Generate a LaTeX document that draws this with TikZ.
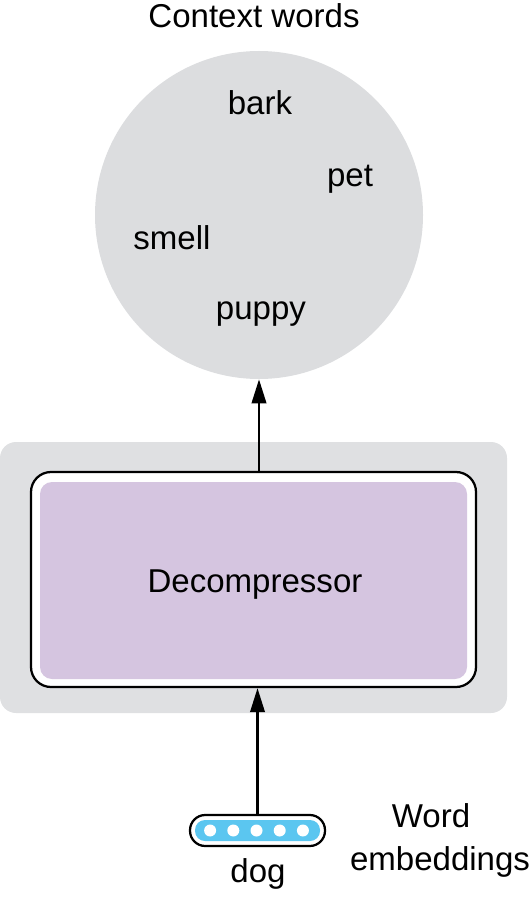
\documentclass[tikz,border=0pt]{standalone}
\usepackage{fontspec}
\setmainfont{Liberation Sans}
\usetikzlibrary{arrows.meta}
\definecolor{ctxgray}{HTML}{DCDDDF}
\definecolor{framegray}{HTML}{DFE0E2}
\definecolor{decpurple}{HTML}{D5C5E0}
\definecolor{embcyan}{HTML}{5BC6F0}
\tikzset{
  lbl/.style={font=\fontsize{23.5}{28}\selectfont, anchor=base, inner sep=0pt},
  arr/.style={line width=1.8pt, -{Triangle[length=0.6cm,width=0.36cm]}},
}
\begin{document}
\begin{tikzpicture}
\useasboundingbox (0,0) rectangle (13.275,-22.5);
% context words
\node[circle, fill=ctxgray, minimum size=8.2cm, inner sep=0pt] (ctx) at (6.475,-5.375) {};
\node[lbl] (title) at (6.35,-0.7) {Context words};
\node[lbl] (bark) at (6.5,-2.875) {bark};
\node[lbl] (pet) at (8.75,-4.675) {pet};
\node[lbl] (smell) at (4.3,-6.25) {smell};
\node[lbl] (puppy) at (6.525,-8.0) {puppy};
% decompressor
\node[fill=framegray, rounded corners=0.4cm, minimum width=12.675cm, minimum height=6.775cm] (frame) at (6.3375,-14.4375) {};
\node[draw, line width=1.6pt, fill=white, rounded corners=0.5cm, minimum width=11.125cm, minimum height=5.375cm] (dec) at (6.3375,-14.4875) {};
\node[fill=decpurple, rounded corners=0.3cm, minimum width=10.675cm, minimum height=4.925cm] (decin) at (6.3375,-14.5125) {};
\node[lbl] (declbl) at (6.375,-14.8) {Decompressor};
% word embedding
\node[draw, line width=1.6pt, fill=white, rounded corners=0.38cm, minimum width=3.375cm, minimum height=0.775cm] (emb) at (6.4375,-20.7625) {};
\node[fill=embcyan, rounded corners=0.25cm, minimum width=3.125cm, minimum height=0.525cm] (embin) at (emb) {};
\foreach \i in {-2,...,2}
  \fill[white] ([xshift=\i*0.58cm-0.025cm]emb.center) circle (0.15cm);
\node[lbl] (dog) at (6.45,-22.05) {dog};
\node[lbl] (word) at (10.775,-20.675) {Word};
\node[lbl] (embs) at (11.0,-21.75) {embeddings};
% arrows
\draw[arr] (dec.north -| ctx.south) -- (ctx.south);
\draw[arr] (emb.north) -- (dec.south -| emb.north);
\end{tikzpicture}
\end{document}
